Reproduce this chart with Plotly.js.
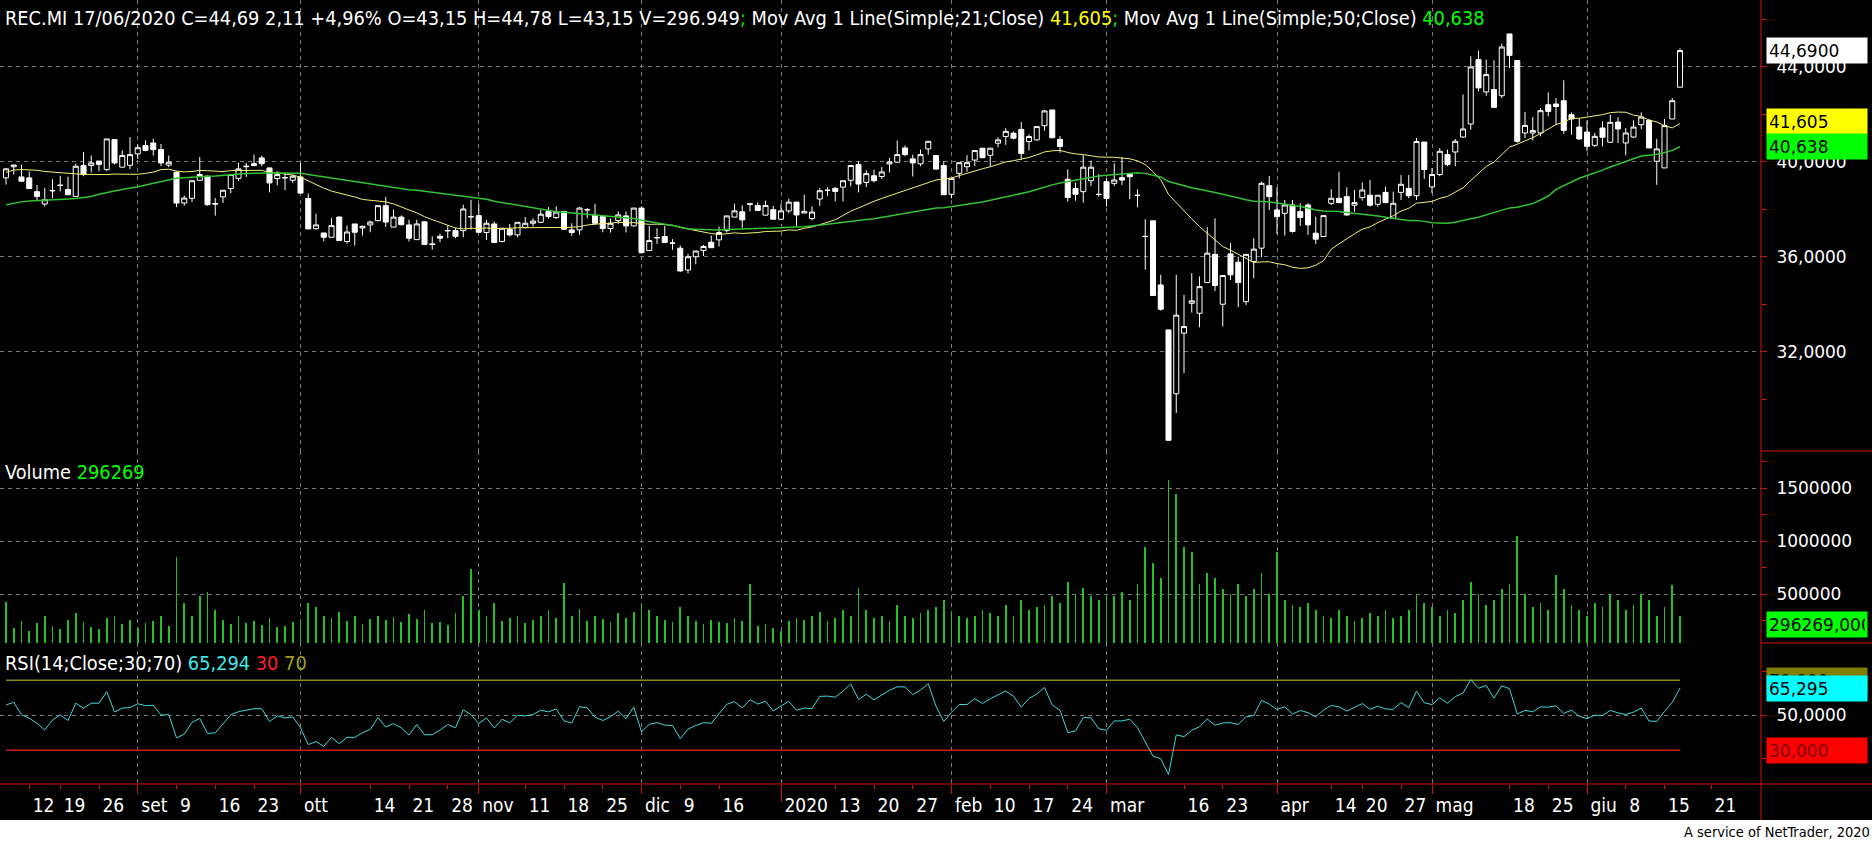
<!DOCTYPE html>
<html><head><meta charset="utf-8">
<script src="https://cdn.plot.ly/plotly-3.0.1.min.js"></script>
<style>html,body{margin:0;padding:0;background:#000;overflow:hidden}</style>
</head><body><div id="chart" style="width:1872px;height:844px"></div>
<script>
const dates = [
"2019-08-07","2019-08-08","2019-08-09","2019-08-12","2019-08-13","2019-08-14","2019-08-16","2019-08-19","2019-08-20","2019-08-21","2019-08-22","2019-08-23","2019-08-26","2019-08-27","2019-08-28","2019-08-29","2019-08-30",
"2019-09-02","2019-09-03","2019-09-04","2019-09-05","2019-09-06","2019-09-09","2019-09-10","2019-09-11","2019-09-12","2019-09-13","2019-09-16","2019-09-17","2019-09-18","2019-09-19","2019-09-20","2019-09-23","2019-09-24","2019-09-25","2019-09-26","2019-09-27","2019-09-30",
"2019-10-01","2019-10-02","2019-10-03","2019-10-04","2019-10-07","2019-10-08","2019-10-09","2019-10-10","2019-10-11","2019-10-14","2019-10-15","2019-10-16","2019-10-17","2019-10-18","2019-10-21","2019-10-22","2019-10-23","2019-10-24","2019-10-25","2019-10-28","2019-10-29","2019-10-30","2019-10-31",
"2019-11-01","2019-11-04","2019-11-05","2019-11-06","2019-11-07","2019-11-08","2019-11-11","2019-11-12","2019-11-13","2019-11-14","2019-11-15","2019-11-18","2019-11-19","2019-11-20","2019-11-21","2019-11-22","2019-11-25","2019-11-26","2019-11-27","2019-11-28","2019-11-29",
"2019-12-02","2019-12-03","2019-12-04","2019-12-05","2019-12-06","2019-12-09","2019-12-10","2019-12-11","2019-12-12","2019-12-13","2019-12-16","2019-12-17","2019-12-18","2019-12-19","2019-12-20","2019-12-23","2019-12-27","2019-12-30",
"2020-01-02","2020-01-03","2020-01-06","2020-01-07","2020-01-08","2020-01-09","2020-01-10","2020-01-13","2020-01-14","2020-01-15","2020-01-16","2020-01-17","2020-01-20","2020-01-21","2020-01-22","2020-01-23","2020-01-24","2020-01-27","2020-01-28","2020-01-29","2020-01-30","2020-01-31",
"2020-02-03","2020-02-04","2020-02-05","2020-02-06","2020-02-07","2020-02-10","2020-02-11","2020-02-12","2020-02-13","2020-02-14","2020-02-17","2020-02-18","2020-02-19","2020-02-20","2020-02-21","2020-02-24","2020-02-25","2020-02-26","2020-02-27","2020-02-28",
"2020-03-02","2020-03-03","2020-03-04","2020-03-05","2020-03-06","2020-03-09","2020-03-10","2020-03-11","2020-03-12","2020-03-13","2020-03-16","2020-03-17","2020-03-18","2020-03-19","2020-03-20","2020-03-23","2020-03-24","2020-03-25","2020-03-26","2020-03-27","2020-03-30","2020-03-31",
"2020-04-01","2020-04-02","2020-04-03","2020-04-06","2020-04-07","2020-04-08","2020-04-09","2020-04-14","2020-04-15","2020-04-16","2020-04-17","2020-04-20","2020-04-21","2020-04-22","2020-04-23","2020-04-24","2020-04-27","2020-04-28","2020-04-29","2020-04-30",
"2020-05-04","2020-05-05","2020-05-06","2020-05-07","2020-05-08","2020-05-11","2020-05-12","2020-05-13","2020-05-14","2020-05-15","2020-05-18","2020-05-19","2020-05-20","2020-05-21","2020-05-22","2020-05-25","2020-05-26","2020-05-27","2020-05-28","2020-05-29",
"2020-06-01","2020-06-02","2020-06-03","2020-06-04","2020-06-05","2020-06-08","2020-06-09","2020-06-10","2020-06-11","2020-06-12","2020-06-15","2020-06-16","2020-06-17"];

const open = [39.33,39.80,39.37,39.33,38.75,38.23,38.78,39.01,38.84,38.55,
39.85,39.85,40.04,39.68,40.94,39.78,39.86,40.34,40.69,40.80,
40.52,39.87,39.57,38.27,38.47,39.23,39.40,38.25,38.53,38.88,
39.31,39.80,39.85,40.17,39.75,39.30,39.33,39.23,39.37,38.46,
37.19,37.01,36.83,37.68,36.65,37.39,37.22,37.35,37.53,38.16,
37.26,37.68,37.35,36.73,37.48,36.55,36.87,37.10,37.11,37.11,
37.68,37.74,37.03,37.39,36.65,37.17,36.93,37.24,37.42,37.46,
37.92,37.66,37.92,37.14,37.14,37.98,37.76,37.70,37.20,37.53,
37.73,37.31,38.06,36.27,36.80,36.86,36.59,36.37,35.45,36.01,
36.27,36.62,36.72,37.11,37.68,37.90,38.24,38.17,37.76,37.99,
37.59,37.94,38.31,37.85,37.62,38.44,38.80,38.89,38.94,39.23,
39.89,39.14,39.42,39.39,39.92,39.99,40.59,40.13,39.92,40.55,
40.27,39.85,38.64,39.52,39.80,40.08,40.58,40.28,40.79,41.07,
41.21,41.37,40.86,40.93,41.53,42.19,40.95,39.27,38.88,38.75,
39.21,38.64,39.17,39.10,39.34,39.50,38.60,36.87,37.52,34.82,
32.93,30.24,32.79,34.05,33.63,34.92,36.11,34.01,36.13,35.78,
34.12,35.81,36.37,39.00,37.98,37.84,38.19,37.91,38.19,37.00,
36.86,38.26,38.47,38.54,38.18,38.50,38.60,38.22,38.72,37.63,
38.72,38.89,38.58,40.84,38.95,39.47,40.31,40.42,41.05,41.60,
44.31,42.95,43.05,42.79,45.39,44.27,41.22,41.22,41.22,42.41,
42.44,42.58,41.99,41.47,41.26,40.70,41.43,40.83,41.68,40.80,
41.05,41.57,41.75,40.03,39.75,41.81,43.15];

const high = [39.75,39.88,39.89,39.60,39.03,38.90,39.28,39.42,39.38,39.93,
40.41,40.27,40.04,40.97,40.94,40.49,41.05,40.74,40.91,40.98,
40.76,40.27,39.60,38.58,39.21,40.21,39.43,38.48,38.81,39.47,
39.96,39.96,40.31,40.27,39.75,39.61,39.54,39.47,39.96,38.67,
37.82,37.01,37.64,37.71,37.32,37.39,37.32,37.53,38.16,38.53,
37.99,37.75,37.57,37.57,37.48,36.87,36.98,37.32,37.22,38.20,
38.41,38.24,37.56,37.49,37.21,37.39,37.46,37.68,37.63,37.99,
38.10,38.13,37.92,37.42,38.10,38.06,38.24,37.70,37.62,37.92,
37.92,38.06,38.13,37.31,37.21,37.31,36.75,36.48,36.13,36.25,
36.51,36.90,37.28,37.73,38.24,38.17,38.24,38.30,38.37,38.15,
38.22,38.45,38.31,38.62,38.13,38.90,38.94,38.94,39.21,39.85,
40.03,39.65,39.68,39.79,40.17,40.90,40.69,40.31,40.52,40.87,
40.27,40.03,39.31,39.97,40.29,40.48,40.58,40.58,41.04,41.42,
41.28,41.68,41.16,41.49,42.19,42.19,41.09,39.69,39.13,40.29,
40.06,39.50,39.31,39.94,40.20,39.50,38.85,37.59,37.52,35.25,
32.93,35.25,34.40,35.32,35.18,37.25,37.63,35.22,36.58,36.02,
36.11,36.79,39.17,39.41,38.93,38.40,38.40,38.26,38.26,37.70,
37.74,38.85,39.59,38.93,38.82,39.14,39.24,38.60,38.96,38.75,
39.45,39.45,41.01,40.84,39.75,40.59,40.52,40.97,42.84,44.45,
44.69,44.31,44.28,44.98,45.39,44.27,42.11,41.89,42.27,42.93,
42.69,43.44,42.09,41.85,41.75,41.22,41.71,41.99,41.89,41.43,
41.75,42.09,41.81,40.97,41.81,42.69,44.78];

const low = [39.05,39.47,39.19,38.88,38.37,38.13,38.47,38.76,38.62,38.55,
39.40,39.56,39.61,39.61,39.90,39.78,39.70,40.13,40.45,40.27,
39.82,39.78,38.10,38.16,38.31,39.23,38.16,37.74,38.27,38.69,
39.19,39.37,39.82,39.82,38.72,39.02,38.81,39.12,38.69,37.18,
37.15,36.66,36.83,36.69,36.56,36.48,36.90,37.04,37.50,37.26,
37.26,37.32,36.65,36.73,36.50,36.31,36.62,36.79,36.79,36.83,
37.15,37.00,36.72,36.58,36.62,36.86,36.83,37.20,37.28,37.42,
37.62,37.60,37.14,36.89,36.93,37.63,37.39,37.04,37.03,37.39,
37.03,37.28,36.15,36.27,36.55,36.60,36.30,35.38,35.31,35.69,
36.04,36.39,36.44,37.03,37.68,37.21,37.92,37.96,37.76,37.59,
37.56,37.85,37.31,37.85,37.54,38.15,38.58,38.34,38.34,38.97,
38.72,38.94,39.14,39.28,39.56,39.96,40.24,39.39,39.82,40.31,
39.68,38.62,38.47,39.31,39.59,39.83,40.18,39.80,40.62,40.72,
40.95,40.08,40.48,40.90,41.32,41.02,40.39,38.33,38.37,38.29,
38.99,38.54,38.12,38.99,39.03,38.43,38.09,35.46,34.38,33.74,
28.28,29.43,31.11,33.66,33.04,34.92,34.57,33.07,35.03,33.89,
33.98,35.11,35.99,37.98,36.97,36.90,37.03,37.31,36.93,36.55,
36.86,38.19,38.26,37.73,37.91,38.37,38.12,38.12,38.26,37.63,
38.40,38.47,38.40,39.28,38.69,39.40,39.82,39.82,41.01,41.36,
42.98,42.79,42.30,42.69,43.96,40.80,41.01,40.91,41.08,41.92,
41.57,41.19,41.15,40.94,40.45,40.63,40.66,40.83,40.80,40.28,
41.01,41.39,40.59,39.04,39.75,41.81,43.15];

const close = [39.71,39.87,39.19,38.88,38.55,38.41,38.80,39.02,38.62,39.82,
39.47,39.96,39.90,40.97,39.96,40.27,40.31,40.60,40.49,40.52,
39.96,39.99,38.27,38.48,39.21,39.47,38.20,38.23,38.81,39.47,
39.71,39.82,39.93,39.93,39.12,39.47,39.34,39.40,38.69,37.18,
37.35,36.83,37.32,36.69,37.05,37.04,37.29,37.47,38.16,37.47,
37.68,37.36,36.79,37.39,36.53,36.53,36.79,37.11,36.87,38.02,
37.70,37.04,37.42,36.61,37.21,36.93,37.46,37.42,37.51,37.80,
37.70,37.89,37.17,37.03,38.06,37.99,37.42,37.20,37.42,37.77,
37.31,38.06,36.18,36.69,36.82,36.61,36.58,35.41,36.01,36.25,
36.44,36.39,37.03,37.73,37.94,37.56,38.22,37.96,38.17,37.59,
37.94,38.31,37.77,37.92,37.89,38.79,38.81,38.76,39.21,39.85,
39.07,39.51,39.21,39.58,40.00,40.31,40.31,39.96,40.31,40.87,
39.70,38.62,39.31,39.97,39.97,40.48,40.18,40.58,40.93,41.29,
41.00,40.36,41.07,41.49,42.15,41.02,40.65,38.50,38.64,39.78,
39.78,38.63,38.46,39.24,39.24,39.38,38.59,36.86,34.38,33.80,
28.28,33.55,33.07,34.15,34.75,36.16,34.80,35.22,35.25,34.92,
36.11,36.33,39.10,38.54,37.70,38.19,37.07,37.66,37.35,36.75,
37.74,38.47,38.29,37.77,38.29,38.82,38.18,38.60,38.29,38.26,
39.06,38.58,40.86,39.68,39.47,40.45,39.89,40.87,41.39,44.00,
43.12,43.68,42.30,44.84,44.49,40.87,41.54,41.32,42.16,42.13,
42.34,41.33,41.81,40.97,40.66,41.08,41.04,41.67,41.39,41.22,
41.47,41.89,40.59,40.55,41.53,42.58,44.69];

const volume = [430000,180000,250000,150000,230000,300000,200000,170000,260000,320000,
240000,190000,170000,280000,300000,220000,260000,180000,230000,250000,
300000,200000,850000,420000,300000,480000,520000,350000,260000,220000,
300000,230000,250000,210000,280000,190000,200000,240000,260000,420000,
380000,300000,280000,330000,250000,300000,220000,270000,300000,260000,
290000,240000,310000,270000,350000,230000,240000,210000,320000,480000,
740000,350000,300000,420000,250000,280000,300000,230000,260000,300000,
350000,280000,610000,300000,360000,250000,300000,270000,240000,320000,
280000,330000,400000,350000,300000,260000,240000,380000,300000,250000,
220000,260000,240000,230000,280000,250000,600000,200000,220000,180000,
150000,250000,280000,260000,300000,330000,250000,280000,350000,300000,
560000,350000,280000,300000,250000,400000,300000,280000,320000,350000,
380000,450000,330000,300000,280000,300000,350000,320000,300000,400000,
300000,450000,350000,380000,400000,480000,420000,620000,500000,560000,
480000,450000,500000,480000,520000,450000,600000,950000,800000,650000,
1580000,1450000,950000,900000,600000,700000,650000,550000,500000,600000,
480000,550000,700000,500000,900000,450000,400000,380000,420000,350000,
300000,280000,350000,300000,250000,280000,320000,300000,350000,280000,
300000,350000,500000,420000,380000,300000,350000,320000,450000,620000,
500000,400000,450000,550000,600000,1050000,500000,380000,420000,350000,
680000,550000,400000,350000,300000,420000,380000,500000,450000,350000,
400000,500000,450000,300000,380000,590000,296269];

// indicator warm-up values (history before the first shown day)
const ma21Warmup = [39.56,39.66,39.68,39.67,39.65,39.60,39.57,39.53,39.51,39.50,39.48,39.47,39.46,39.47,39.49,39.48,39.47,39.48,39.52,39.57];
const ma50Warmup = [38.20,38.27,38.32,38.36,38.37,38.39,38.40,38.43,38.44,38.46,38.50,38.55,38.64,38.72,38.78,38.84,38.89,38.96,39.03,39.10,
39.17,39.23,39.31,39.34,39.37,39.38,39.40,39.41,39.44,39.47,39.49,39.51,39.52,39.54,39.54,39.54,39.54,39.54,39.52,39.47,
39.42,39.38,39.34,39.30,39.24,39.19,39.14,39.10,39.05];
const rsiWarmup = [55.9,57.4,50.2,48.3,45.4,41.6,47.3,50.2,47.0,56.9,54.0,56.9,56.9,63.5];

const labelDates = ["2019-08-12","2019-08-19","2019-08-26","2019-09-02","2019-09-09","2019-09-16","2019-09-23","2019-10-01","2019-10-14","2019-10-21","2019-10-28","2019-11-01","2019-11-11","2019-11-18","2019-11-25","2019-12-02","2019-12-09","2019-12-16","2020-01-02","2020-01-13","2020-01-20","2020-01-27","2020-02-03","2020-02-10","2020-02-17","2020-02-24","2020-03-02","2020-03-16","2020-03-23","2020-04-01","2020-04-14","2020-04-20","2020-04-27","2020-05-04","2020-05-18","2020-05-25","2020-06-01","2020-06-08","2020-06-15"];
const labelTexts = ["12","19","26","set","9","16","23","ott","14","21","28","nov","11","18","25","dic","9","16","2020","13","20","27","feb","10","17","24","mar","16","23","apr","14","20","27","mag","18","25","giu","8","15"];
const futureLabelText = "21";
const futureLabelIdx = 220;
const monthStarts = ["2019-09-02","2019-10-01","2019-11-01","2019-12-02","2020-01-02","2020-02-03","2020-03-02","2020-04-01","2020-05-04","2020-06-01"];
const yearStart = "2020-01-02";

const rsiUpper = 70, rsiLower = 30;
const lastClose = 44.69, lastMa21 = 41.605, lastMa50 = 40.638, lastVolume = 296269, lastRsi = 65.295;

// ---------- derived ----------
const N = dates.length;
const idx = dates.map((d, i) => i);
function sma(arr, n, warm) {
  return arr.map((v, i) => {
    if (i < n - 1) return warm[i];
    let s = 0; for (let k = i - n + 1; k <= i; k++) s += arr[k];
    return s / n;
  });
}
function rsiCalc(c, n, warm) {
  const out = warm.slice();
  let g = 0, l = 0;
  for (let i = 1; i <= n; i++) { const d = c[i] - c[i - 1]; if (d > 0) g += d; else l -= d; }
  g /= n; l /= n;
  out[n] = 100 - 100 / (1 + g / l);
  for (let i = n + 1; i < c.length; i++) {
    const d = c[i] - c[i - 1];
    g = (g * (n - 1) + Math.max(d, 0)) / n;
    l = (l * (n - 1) + Math.max(-d, 0)) / n;
    out[i] = 100 - 100 / (1 + g / l);
  }
  return out;
}
const ma21 = sma(close, 21, ma21Warmup);
const ma50 = sma(close, 50, ma50Warmup);
const rsi = rsiCalc(close, 14, rsiWarmup);

const labelIdx = labelDates.map(d => dates.indexOf(d)).concat([futureLabelIdx]);
const labelAll = labelTexts.concat([futureLabelText]);
const monthIdx = monthStarts.map(d => dates.indexOf(d));
const yearIdx = [dates.indexOf(yearStart)];

// ---------- geometry ----------
const W = 1872, H = 844;
const plotR = 1761, plotB = 784;
const pxY = py => (plotB - py) / plotB;       // paper y from pixel
const pxX = px => px / plotR;                 // paper x from pixel
const xr = [-0.774, 226.45];

const NARROW = "Liberation Sans Narrow, DejaVu Sans Condensed, Arial Narrow, sans-serif";
const WIDE = "DejaVu Sans, Verdana, sans-serif";
const GRID = "#7a7a7a";
const DASH = "4px,4px";
const RED = "#d01010";

const traces = [
  { type: "candlestick", x: idx, open: open, high: high, low: low, close: close,
    xaxis: "x", yaxis: "y", whiskerwidth: 0, hoverinfo: "skip",
    increasing: { line: { color: "#ffffff", width: 1 }, fillcolor: "#000000" },
    decreasing: { line: { color: "#ffffff", width: 1 }, fillcolor: "#ffffff" } },
  { type: "scatter", mode: "lines", x: idx, y: ma21, xaxis: "x", yaxis: "y",
    line: { color: "#f2f27a", width: 1 }, hoverinfo: "skip" },
  { type: "scatter", mode: "lines", x: idx, y: ma50, xaxis: "x", yaxis: "y",
    line: { color: "#33c233", width: 1.5 }, hoverinfo: "skip" },
  { type: "bar", x: idx, y: volume, xaxis: "x2", yaxis: "y2", width: 0.22,
    marker: { color: "#22c022", line: { width: 0 } }, hoverinfo: "skip" },
  { type: "scatter", mode: "lines", x: [idx[0], idx[N - 1]], y: [rsiUpper, rsiUpper], xaxis: "x3", yaxis: "y3",
    line: { color: "#8a8a1a", width: 1.5 }, hoverinfo: "skip" },
  { type: "scatter", mode: "lines", x: [idx[0], idx[N - 1]], y: [rsiLower, rsiLower], xaxis: "x3", yaxis: "y3",
    line: { color: "#d01818", width: 1.5 }, hoverinfo: "skip" },
  { type: "scatter", mode: "lines", x: idx, y: rsi, xaxis: "x3", yaxis: "y3",
    line: { color: "#40d8d8", width: 1 }, hoverinfo: "skip" },
  // carrier traces so the tick-only overlay axes are drawn
  { type: "scatter", mode: "lines", x: [idx[0]], y: [null], xaxis: "x4", yaxis: "y3", hoverinfo: "skip", showlegend: false },
  { type: "scatter", mode: "lines", x: [idx[0]], y: [null], xaxis: "x5", yaxis: "y3", hoverinfo: "skip", showlegend: false },
  { type: "scatter", mode: "lines", x: [idx[0]], y: [null], xaxis: "x6", yaxis: "y3", hoverinfo: "skip", showlegend: false }
];

const gridX = { range: xr, tickmode: "array", tickvals: monthIdx, ticks: "", showticklabels: false,
  showgrid: true, gridcolor: GRID, griddash: DASH, gridwidth: 1, zeroline: false, showline: false, fixedrange: true };

const overlayX = { overlaying: "x3", anchor: "y3", side: "bottom", range: xr, tickmode: "array",
  ticks: "outside", tickwidth: 1, tickcolor: RED, showgrid: false, zeroline: false, showline: false, fixedrange: true };

const yCommon = { side: "right", showline: false, zeroline: false, ticks: "outside", ticklen: 5, tickwidth: 1,
  tickcolor: RED, showgrid: true, gridcolor: GRID, griddash: DASH, gridwidth: 1,
  tickfont: { family: WIDE, size: 17, color: "#ffffff" }, ticklabelstandoff: 6, automargin: false, fixedrange: true };

const layout = {
  width: W, height: H,
  margin: { l: 0, r: W - plotR, t: 0, b: H - plotB },
  paper_bgcolor: "#000000", plot_bgcolor: "#000000",
  showlegend: false, separators: ",.",
  boxgap: 0.35, boxgroupgap: 0, bargap: 0,
  xaxis: Object.assign({}, gridX, { domain: [0, 1], anchor: "y", rangeslider: { visible: false } }),
  xaxis2: Object.assign({}, gridX, { domain: [0, 1], anchor: "y2", matches: "x" }),
  xaxis3: Object.assign({}, gridX, { domain: [0, 1], anchor: "y3", matches: "x" }),
  xaxis4: Object.assign({}, overlayX, { tickvals: labelIdx, ticktext: labelAll, ticklen: 4, tickangle: 0,
    ticklabelposition: "outside right", ticklabelshift: 3, ticklabelstandoff: 4, ticklabeloverflow: "allow",
    tickfont: { family: NARROW, size: 19, color: "#ffffff" } }),
  xaxis5: Object.assign({}, overlayX, { tickvals: monthIdx, ticklen: 9, showticklabels: false }),
  xaxis6: Object.assign({}, overlayX, { tickvals: yearIdx, ticklen: 17, showticklabels: false }),
  yaxis: Object.assign({}, yCommon, { domain: [pxY(451), 1], anchor: "x", range: [27.83, 46.82],
    tickmode: "array", tickvals: [32, 36, 40, 44], tickformat: ".4f",
    minor: { tickmode: "array", tickvals: [30, 34, 38, 42, 46], ticks: "outside", ticklen: 5, tickcolor: RED, showgrid: false } }),
  yaxis2: Object.assign({}, yCommon, { domain: [pxY(643), pxY(451)], anchor: "x2", range: [40500, 1852000],
    tickmode: "array", tickvals: [500000, 1000000, 1500000], tickformat: "d",
    minor: { tickmode: "array", tickvals: [250000, 750000, 1250000, 1750000], ticks: "outside", ticklen: 5, tickcolor: RED, showgrid: false } }),
  yaxis3: Object.assign({}, yCommon, { domain: [0, pxY(643)], anchor: "x3", range: [10.7, 91.3],
    tickmode: "array", tickvals: [50], tickformat: ".4f",
    minor: { tickmode: "array", tickvals: [25, 75], ticks: "outside", ticklen: 5, tickcolor: RED, showgrid: false } }),
  shapes: [
    { type: "rect", xref: "paper", yref: "paper", x0: 0, x1: pxX(W), y0: pxY(820), y1: pxY(H), fillcolor: "#ffffff", line: { width: 0 } },
    { type: "line", xref: "paper", yref: "paper", x0: 1, x1: 1, y0: pxY(820), y1: 1, line: { color: RED, width: 1 } },
    { type: "line", xref: "paper", yref: "paper", x0: 0, x1: pxX(W), y0: 0, y1: 0, line: { color: RED, width: 1 } },
    { type: "line", xref: "paper", yref: "paper", x0: 1, x1: pxX(W), y0: pxY(451), y1: pxY(451), line: { color: RED, width: 1 } },
    { type: "line", xref: "paper", yref: "paper", x0: 1, x1: pxX(W), y0: pxY(643), y1: pxY(643), line: { color: RED, width: 1 } }
  ],
  annotations: []
};

const A = layout.annotations;
A.push({ xref: "paper", yref: "paper", x: 0, y: 1, xanchor: "left", yanchor: "top", xshift: 3, yshift: -5, showarrow: false,
  font: { family: NARROW, size: 19.8, color: "#ffffff" },
  text: 'REC.MI 17/06/2020 C=44,69 2,11 +4,96% O=43,15 H=44,78 L=43,15 V=296.949<span style="color:#00e000">;</span> Mov Avg 1 Line(Simple;21;Close) <span style="color:#ffff00">41,605</span><span style="color:#00e000">;</span> Mov Avg 1 Line(Simple;50;Close) <span style="color:#00ff00">40,638</span>' });
A.push({ xref: "paper", yref: "paper", x: 0, y: pxY(472), xanchor: "left", yanchor: "middle", xshift: 3, showarrow: false,
  font: { family: NARROW, size: 19.8, color: "#ffffff" },
  text: 'Volume <span style="color:#00ff00">296269</span>' });
A.push({ xref: "paper", yref: "paper", x: 0, y: pxY(663), xanchor: "left", yanchor: "middle", xshift: 3, showarrow: false,
  font: { family: NARROW, size: 19.8, color: "#ffffff" },
  text: 'RSI(14;Close;30;70) <span style="color:#40e8e8">65,294</span> <span style="color:#ff2020">30</span> <span style="color:#a0a020">70</span>' });

function valueBox(yref, y, text, bg, fg, yshift) {
  A.push({ xref: "paper", yref: yref, x: pxX(1766), y: y, xanchor: "left", yanchor: "middle", yshift: yshift || 0,
    showarrow: false, width: 96, height: 21, align: "left", bgcolor: bg, borderpad: 2,
    font: { family: WIDE, size: 17, color: fg }, text: text });
}
valueBox("y", lastClose, "44,6900", "#ffffff", "#000000", 0);
valueBox("y", lastMa21, "41,605", "#ffff00", "#000000", 2);
valueBox("y", lastMa50, "40,638", "#00ff00", "#000000", 0);
valueBox("y2", lastVolume, "296269,000", "#00ff00", "#000000", -9);
valueBox("y3", rsiUpper, "70,000", "#808000", "#000000", 0);
valueBox("y3", lastRsi, "65,295", "#00ffff", "#000000", 0);
valueBox("y3", rsiLower, "30,000", "#ff0000", "#800000", 0);

A.push({ xref: "paper", yref: "paper", x: pxX(W), y: pxY(832), xanchor: "right", yanchor: "middle", xshift: 0, showarrow: false,
  font: { family: NARROW, size: 14.5, color: "#000000" }, text: "A service of NetTrader, 2020" });

Plotly.newPlot("chart", traces, layout, { staticPlot: true, displayModeBar: false });
</script>
</body></html>
